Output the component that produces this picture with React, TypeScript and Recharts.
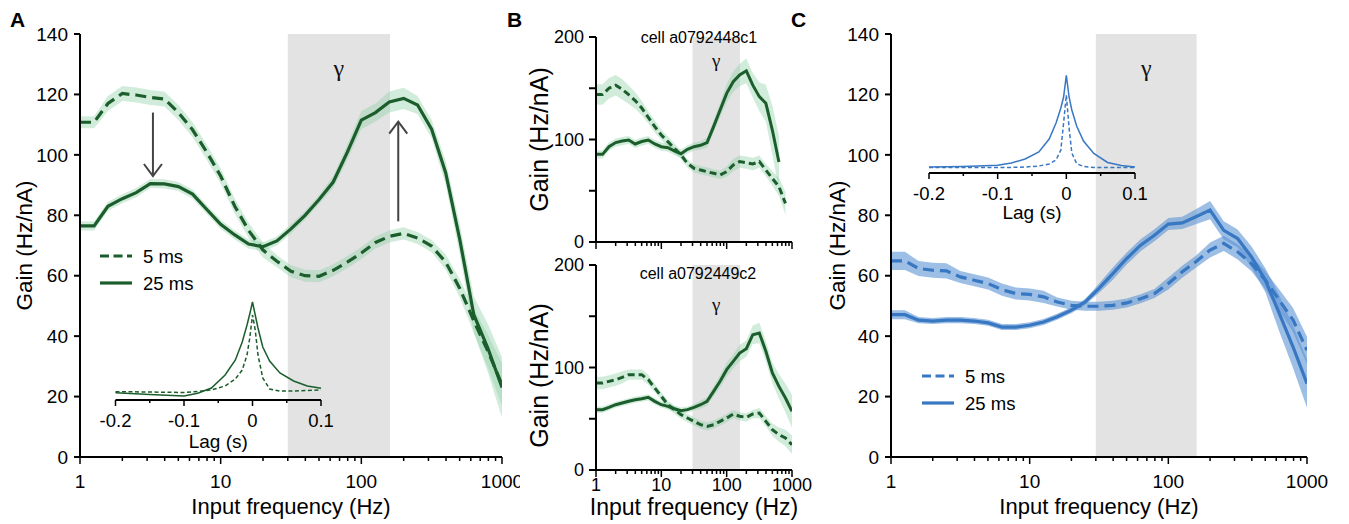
import React from "react"
import {
  ComposedChart,
  Line,
  Area,
  XAxis,
  YAxis,
  ReferenceArea,
  ReferenceLine,
  Legend,
} from "recharts"

// ---------- shared axes ----------
const freqs = [
  1, 1.26, 1.58, 2, 2.51, 3.16, 3.98, 5.01, 6.31, 7.94, 10, 12.6, 15.8, 20, 25.1, 31.6, 39.8,
  50.1, 63.1, 79.4, 100, 126, 158, 200, 251, 316, 398, 501, 631, 794, 1000,
]
const freqMajor = [1, 10, 100, 1000]
const freqTicks = [
  1, 2, 3, 4, 5, 6, 7, 8, 9, 10, 20, 30, 40, 50, 60, 70, 80, 90, 100, 200, 300, 400, 500, 600,
  700, 800, 900, 1000,
]
const gammaBand = [30, 160]
const gainTicksAC = [0, 20, 40, 60, 80, 100, 120, 140]
const gainTicksB = [0, 50, 100, 150, 200]

const lags = [
  -0.2, -0.15, -0.1, -0.08, -0.06, -0.04, -0.025, -0.015, -0.008, -0.004, 0, 0.004, 0.008, 0.015,
  0.025, 0.04, 0.06, 0.08, 0.1,
]
const lagTicks = [-0.2, -0.15, -0.1, -0.05, 0, 0.05, 0.1]
const lagMajor = [-0.2, -0.1, 0, 0.1]

// ---------- panel A ----------
const gainA5 = [
  110.8, 110.8, 117, 120.3, 119.8, 119, 118.5, 114, 108.3, 101, 93, 83, 75, 68.5, 64.8, 61.5, 60,
  59.8, 61.8, 64.5, 67.5, 71, 73, 74, 72.5, 69.8, 64.5, 55.8, 45, 35, 24,
]
const semA5 = [
  2, 2, 2.5, 2.5, 2.5, 2.5, 2.5, 2.5, 2.5, 2.5, 2.5, 2.5, 2.5, 2.5, 2, 2, 2, 2, 2, 2, 2, 2, 2, 2,
  2, 2, 2.5, 3, 4, 5.5, 7,
]
const gainA25 = [
  76.5, 76.5, 83, 85.5, 87.5, 90.5, 90.4, 89.5, 87, 82, 77, 73.5, 70.5, 69.6, 71.5, 75.5, 80,
  85.2, 91, 100.8, 111.5, 114, 117.5, 118.7, 116.5, 108.5, 94, 72, 47, 36, 23,
]
const semA25 = [
  1.5, 1.5, 1.5, 1.5, 1.5, 1.5, 1.5, 1.5, 1.5, 1.5, 1.5, 1.5, 1.5, 1.5, 1.5, 1.5, 1.5, 1.5, 2,
  2.5, 3, 3, 3.5, 3.5, 3, 3, 4, 5, 6, 8, 10,
]
const kernelA5 = [8.3, 8, 7.5, 8.5, 10, 14, 21, 30, 45, 62, 85, 70, 45, 22, 11, 9, 9, 9.5, 10]
const kernelA25 = [7.3, 5.5, 4, 6.7, 12, 25, 40, 58, 75, 86, 98, 85, 72, 53, 39, 27, 19, 14, 11.7]
const arrowsA = [
  { freq: 3.3, from: 114, to: 93 },
  { freq: 183, from: 78, to: 111 },
]

// ---------- panel B ----------
const gainB1_5 = [
  144, 144, 150, 153, 149, 143.7, 138, 130.7, 121.6, 112.5, 104.4, 97.9, 91.4, 84.9, 76.7, 71.9,
  70.2, 68.6, 67, 65.4, 68.6, 75.1, 78.4, 77.4, 76.1, 78.4, 70.2, 62, 54, 37.7, null,
]
const semB1_5 = [
  10, 10, 10, 10, 10, 9, 8, 7, 6, 6, 5, 5, 5, 4, 4, 4, 4, 4, 4, 4, 5, 6, 6, 6, 6, 6, 6, 7, 9, 11,
  null,
]
const gainB1_25 = [
  85.5, 85.5, 93, 97, 98.5, 99.5, 95.6, 98, 99.5, 95.6, 93, 92, 89, 86, 90.4, 93, 94.3, 97, 112.5,
  128.8, 145, 156.4, 163, 167, 153, 141.8, 135.3, 109, 78, null, null,
]
const semB1_25 = [
  4, 4, 4, 4, 4, 4, 4, 4, 4, 4, 4, 4, 4, 4, 4, 4, 4, 5, 6, 7, 9, 10, 11, 12, 12, 14, 18, 24, 26,
  null, null,
]
const gainB2_5 = [
  84.9, 84.9, 86.5, 88.1, 90.4, 93, 93, 93, 88.1, 80, 71.9, 63.7, 58.9, 54, 50.7, 47.5, 44.2, 42.6,
  44.2, 47.5, 50.7, 54.6, 52.4, 51.4, 54.6, 55.6, 47.5, 39.3, 34.5, 31.2, 24.7,
]
const semB2_5 = [
  6, 6, 6, 6, 6, 5, 5, 5, 5, 4, 4, 4, 4, 4, 4, 4, 4, 4, 4, 4, 4, 4, 4, 4, 4, 5, 5, 6, 7, 8, 9,
]
const gainB2_25 = [
  58.9, 58.9, 61.1, 63.7, 65.4, 67, 68.6, 69.6, 70.9, 67, 63.7, 62.1, 59.8, 57.9, 58.9, 61.1, 63.7,
  67, 76.7, 86.5, 97.9, 106, 114.1, 118.4, 132, 133.7, 115.8, 94.6, 81.6, 70.2, 57.2,
]
const semB2_25 = [
  3, 3, 3, 3, 3, 3, 3, 3, 3, 3, 3, 3, 3, 3, 3, 3, 4, 4, 5, 6, 7, 7, 8, 8, 9, 10, 10, 10, 12, 14,
  16,
]
const cellNames = ["cell a0792448c1", "cell a0792449c2"]

// ---------- panel C ----------
const gainC5 = [
  64.9, 64.9, 62.4, 61.8, 61.6, 59.6, 58.5, 57.4, 55.4, 54.1, 53.8, 53, 51.3, 50.2, 49.9, 49.9,
  50.2, 51, 52.4, 54.1, 57.4, 61.3, 64.6, 68.5, 70.7, 67.9, 64, 58.5, 51.9, 45.3, 35.3,
]
const semC5 = [
  3, 3, 2.5, 2.5, 2.5, 2, 2, 2, 2, 2, 2, 2, 1.5, 1.5, 1.5, 1.5, 1.5, 1.5, 1.5, 1.5, 2, 2, 2, 2.5,
  2.5, 2.5, 2.5, 3, 3.5, 4, 4.5,
]
const gainC25 = [
  47.1, 47.1, 45.3, 45, 45.3, 45.3, 45, 44.4, 43, 43, 43.6, 44.7, 46.4, 48.6, 51.3, 55.8, 60.7,
  65.7, 70.1, 73.4, 77.1, 77.5, 79.5, 81.7, 75, 72.3, 66.2, 58.5, 47.5, 36.4, 24.3,
]
const semC25 = [
  1.5, 1.5, 1, 1, 1, 1, 1, 1, 1, 1, 1, 1, 1, 1, 1, 1.5, 2, 2, 2, 2, 2, 2, 2.5, 3, 3, 3, 3.5, 4, 6,
  7, 8,
]
const kernelC5 = [5.4, 5.4, 5.4, 5.6, 6, 7, 9, 13, 23, 50, 78, 45, 20, 9.4, 6.5, 5.6, 5.4, 5.4, 5.4]
const kernelC25 = [6, 6.5, 7.7, 10, 14, 21, 34, 50, 65, 76, 97.7, 76, 63, 47, 32, 19.5, 10.5, 7.5, 6]

const legendLabels = ["5 ms", "25 ms"]

const GREEN = "#1b5e2b"
const GREEN_BAND = "#8fd0a8"
const BLUE = "#3877c2"
const BLUE_BAND = "#5b93d3"
const GAMMA = "#e3e3e3"
const FONT = "'Liberation Sans', Arial, sans-serif"

const buildTable = (a5: any[], s5: any[], a25: any[], s25: any[]) =>
  freqs.map((f, i) => ({
    freq: f,
    g5: a5[i],
    g25: a25[i],
    b5: a5[i] == null ? null : [a5[i] - s5[i], a5[i] + s5[i]],
    b25: a25[i] == null ? null : [a25[i] - s25[i], a25[i] + s25[i]],
  }))

const buildKernel = (k5: number[], k25: number[]) =>
  lags.map((l, i) => ({ lag: l, k5: k5[i], k25: k25[i] }))

const freqTick = (labels: boolean, labelDy: number, fontSize: number) => (props: any) => {
  const { x, y, payload } = props
  const major = freqMajor.includes(payload.value)
  return (
    <g>
      <line x1={x} x2={x} y1={y} y2={y + (major ? 7 : 4)} stroke="#000" strokeWidth={1.5} />
      {labels && major && (
        <text x={x} y={y + labelDy} textAnchor="middle" dominantBaseline="central" fontSize={fontSize} fill="#000">
          {payload.value}
        </text>
      )}
    </g>
  )
}

const lagTick = (props: any) => {
  const { x, y, payload } = props
  const major = lagMajor.includes(payload.value)
  return (
    <g>
      <line x1={x} x2={x} y1={y} y2={y + (major ? 6 : 3)} stroke="#000" strokeWidth={1.5} />
      {major && (
        <text x={x} y={y + 20} textAnchor="middle" dominantBaseline="central" fontSize={18.5} fill="#000">
          {payload.value}
        </text>
      )}
    </g>
  )
}

const yTitle = (cx: number, size: number, shift = 0) => (props: any) => {
  const vb = props.viewBox
  const cy = vb.y + vb.height / 2 + shift
  return (
    <text x={cx} y={cy} transform={`rotate(-90 ${cx} ${cy})`} textAnchor="middle" dominantBaseline="central" fontSize={size} fill="#000">
      Gain (Hz/nA)
    </text>
  )
}

const xTitle = (text: string, baseline: number, size: number) => (props: any) => {
  const vb = props.viewBox
  return (
    <text x={vb.x + vb.width / 2} y={baseline} textAnchor="middle" fontSize={size} fill="#000">
      {text}
    </text>
  )
}

const gammaLabel = (dy: number, size: number) => (props: any) => {
  const vb = props.viewBox
  return (
    <text x={vb.x + vb.width / 2} y={vb.y + dy} textAnchor="middle" fontSize={size} fontFamily="'Liberation Serif', serif" fill="#111">
      γ
    </text>
  )
}

const arrowShape = (p: any) => {
  const { x1, y1, x2, y2 } = p
  const dir = y2 > y1 ? 1 : -1
  return (
    <g>
      <line x1={x1} y1={y1} x2={x2} y2={y2} stroke="#444" strokeWidth={2} />
      <polyline points={`${x2 - 9},${y2 - dir * 12} ${x2},${y2} ${x2 + 9},${y2 - dir * 12}`} fill="none" stroke="#444" strokeWidth={2} />
    </g>
  )
}

const legendContent = (color: string) => () => (
  <svg width={150} height={60}>
    <line x1={5} x2={37} y1={16} y2={16} stroke={color} strokeWidth={3.2} strokeDasharray="9 4.5" />
    <line x1={5} x2={37} y1={43} y2={43} stroke={color} strokeWidth={3.2} />
    <text x={48} y={22.5} fontSize={18.5} fill="#000" fontFamily={FONT}>{legendLabels[0]}</text>
    <text x={48} y={50} fontSize={18.5} fill="#000" fontFamily={FONT}>{legendLabels[1]}</text>
  </svg>
)

const GainChart = (p: any) => (
  <div style={{ position: "absolute", left: p.left, top: p.top }}>
    <ComposedChart width={p.width} height={p.height} data={p.data} margin={p.margin}>
      <ReferenceArea x1={gammaBand[0]} x2={gammaBand[1]} fill={GAMMA} fillOpacity={1} stroke="none" label={gammaLabel(p.gammaDy, p.gammaSize)} />
      <XAxis
        dataKey="freq"
        type="number"
        scale="log"
        domain={[1, 1000]}
        allowDataOverflow
        ticks={freqTicks}
        interval={0}
        tickSize={0}
        tickMargin={0}
        tickLine={false}
        tick={freqTick(p.xLabels, p.xLabelDy, p.xTickSize)}
        axisLine={{ stroke: "#000", strokeWidth: 2 }}
        height={p.xAxisHeight}
        label={p.xTitle ? xTitle("Input frequency (Hz)", p.xTitleBaseline, p.xTitleSize) : undefined}
      />
      <YAxis
        type="number"
        domain={p.yDomain}
        ticks={p.yTicks}
        interval={0}
        width={p.yAxisWidth}
        tickSize={p.yTickLen}
        tickMargin={p.yTickMargin}
        tickFormatter={p.yFormat}
        tick={{ fill: "#000", fontSize: p.yTickFont }}
        tickLine={{ stroke: "#000", strokeWidth: 2 }}
        axisLine={{ stroke: "#000", strokeWidth: 2 }}
        label={yTitle(p.yTitleX, p.yTitleSize, p.yTitleShift)}
      />
      <Area dataKey="b5" type="linear" stroke="none" fill={p.band} fillOpacity={p.bandOpacity} isAnimationActive={false} />
      <Area dataKey="b25" type="linear" stroke="none" fill={p.band} fillOpacity={p.bandOpacity} isAnimationActive={false} />
      <Line dataKey="g5" type="linear" stroke={p.color} strokeWidth={p.lineWidth} strokeDasharray={p.dash} dot={false} isAnimationActive={false} />
      <Line dataKey="g25" type="linear" stroke={p.color} strokeWidth={p.lineWidth} dot={false} isAnimationActive={false} />
      {p.extras}
    </ComposedChart>
  </div>
)

const InsetChart = (p: any) => (
  <div style={{ position: "absolute", left: p.left, top: p.top }}>
    <ComposedChart width={240} height={170} data={p.data} margin={{ top: 10, right: p.right, left: p.marginLeft, bottom: 0 }}>
      <XAxis
        dataKey="lag"
        type="number"
        domain={[-0.2, 0.1]}
        ticks={lagTicks}
        interval={0}
        tickSize={0}
        tickMargin={0}
        tickLine={false}
        tick={lagTick}
        axisLine={{ stroke: "#000", strokeWidth: 2 }}
        height={60}
        label={xTitle("Lag (s)", p.lagBaseline, 19)}
      />
      <YAxis hide domain={[0, 100]} />
      <Line dataKey="k5" type="linear" stroke={p.color} strokeWidth={1.5} strokeDasharray="4 2.5" dot={false} isAnimationActive={false} />
      <Line dataKey="k25" type="linear" stroke={p.color} strokeWidth={1.5} dot={false} isAnimationActive={false} />
    </ComposedChart>
  </div>
)

export default function App() {
  const dataA = buildTable(gainA5, semA5, gainA25, semA25)
  const dataB1 = buildTable(gainB1_5, semB1_5, gainB1_25, semB1_25)
  const dataB2 = buildTable(gainB2_5, semB2_5, gainB2_25, semB2_25)
  const dataC = buildTable(gainC5, semC5, gainC25, semC25)

  const mainCommon = {
    height: 524,
    margin: { top: 34, right: 18, left: 0, bottom: 0 },
    xAxisHeight: 67,
    xLabels: true,
    xLabelDy: 24,
    xTickSize: 19,
    xTitle: true,
    xTitleBaseline: 514,
    xTitleSize: 22,
    yDomain: [0, 140],
    yTicks: gainTicksAC,
    yTickLen: 6,
    yTickMargin: 6,
    yTickFont: 19,
    yTitleSize: 22.5,
    gammaDy: 42,
    gammaSize: 24,
    lineWidth: 3.2,
    dash: "11 6",
  }
  const bCommon = {
    left: 520,
    width: 304,
    yAxisWidth: 76,
    yDomain: [0, 200],
    yTicks: gainTicksB,
    yFormat: (v: number) => (v % 100 === 0 ? String(v) : ""),
    yTickLen: 7,
    yTickMargin: 5,
    yTickFont: 18,
    yTitleX: 19,
    yTitleSize: 25,
    gammaSize: 19,
    color: GREEN,
    band: GREEN_BAND,
    bandOpacity: 0.4,
    lineWidth: 3,
    dash: "7 4",
    xLabelDy: 15,
    xTickSize: 18,
  }

  return (
    <div style={{ position: "absolute", left: 0, top: 0, width: 1349, height: 524, background: "#fff", fontFamily: FONT }}>
      <GainChart
        {...mainCommon}
        left={0}
        top={0}
        width={520}
        data={dataA}
        yAxisWidth={80}
        yTitleX={24}
        color={GREEN}
        band={GREEN_BAND}
        bandOpacity={0.4}
        extras={[
          ...arrowsA.map((a, i) => (
            <ReferenceLine
              key={"arr" + i}
              segment={[{ x: a.freq, y: a.from }, { x: a.freq, y: a.to }]}
              shape={arrowShape}
            />
          )),
          <Legend key="lg" layout="horizontal" verticalAlign="middle" align="center" content={legendContent(GREEN)} wrapperStyle={{ left: 95, top: 240, width: 150, height: 60 }} />,
        ]}
      />
      <InsetChart left={100} top={290} marginLeft={15.5} right={19} data={buildKernel(kernelA5, kernelA25)} color={GREEN} lagBaseline={158} />

      <GainChart
        {...bCommon}
        top={0}
        height={262}
        margin={{ top: 37, right: 32, left: 0, bottom: 12 }}
        data={dataB1}
        xAxisHeight={8}
        xLabels={false}
        xTitle={false}
        gammaDy={30}
        yTitleShift={0}
      />
      <GainChart
        {...bCommon}
        top={250}
        height={274}
        margin={{ top: 15, right: 32, left: 0, bottom: 0 }}
        data={dataB2}
        xAxisHeight={54}
        xLabels
        xTitle
        xTitleBaseline={265}
        xTitleSize={23}
        gammaDy={46}
        yTitleShift={8}
      />

      <GainChart
        {...mainCommon}
        left={800}
        top={0}
        width={549}
        margin={{ top: 34, right: 42, left: 0, bottom: 0 }}
        data={dataC}
        yAxisWidth={91}
        yTitleX={37}
        color={BLUE}
        band={BLUE_BAND}
        bandOpacity={0.6}
        extras={[
          <Legend key="lg" layout="horizontal" verticalAlign="middle" align="center" content={legendContent(BLUE)} wrapperStyle={{ left: 117, top: 360, width: 150, height: 60 }} />,
        ]}
      />
      <InsetChart left={910} top={62.7} marginLeft={19} right={15} data={buildKernel(kernelC5, kernelC25)} color={BLUE} lagBaseline={156} />

      <svg width={1349} height={524} style={{ position: "absolute", left: 0, top: 0, pointerEvents: "none" }}>
        <text x={10} y={27} fontSize={21} fontWeight="bold" fill="#000">A</text>
        <text x={507} y={27} fontSize={21} fontWeight="bold" fill="#000">B</text>
        <text x={791} y={27} fontSize={21} fontWeight="bold" fill="#000">C</text>
        <text x={699} y={43} fontSize={16} textAnchor="middle" fill="#000">{cellNames[0]}</text>
        <text x={698} y={279} fontSize={16} textAnchor="middle" fill="#000">{cellNames[1]}</text>
      </svg>
    </div>
  )
}
